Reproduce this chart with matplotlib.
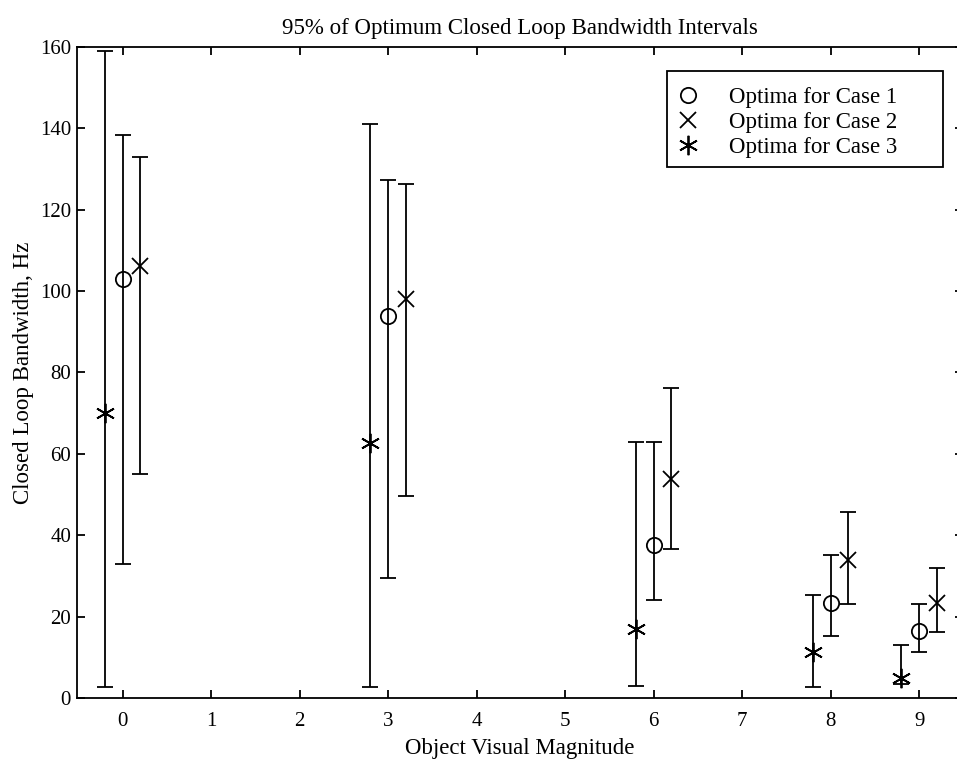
import numpy as np
from matplotlib import pyplot as plt
from matplotlib.patches import Rectangle

# object visual magnitudes
magnitudes = [0, 3, 6, 8, 9]

# Case 1 (circles, centred on magnitude)
case1_opt = [103, 94, 37.5, 23.4, 16.4]
case1_low = [33, 29.6, 24.2, 15.3, 11.4]
case1_high = [138.4, 127.3, 63, 35.2, 23.1]

# Case 2 (crosses, offset to the right)
case2_opt = [106.2, 98.1, 53.7, 34, 23.4]
case2_low = [55, 49.6, 36.7, 23.1, 16.3]
case2_high = [133, 126.3, 76.1, 45.7, 32]

# Case 3 (asterisks, offset to the left)
case3_opt = [70, 62.7, 17, 11.2, 4.9]
case3_low = [2.8, 2.6, 3, 2.8, 3.5]
case3_high = [159, 141, 62.9, 25.2, 13.1]

OFFSET = 0.2
FONT = "Liberation Serif"


def draw_case(ax, xs, opt, low, high, marker, label, ms):
    opt = np.array(opt)
    yerr = np.vstack([opt - np.array(low), np.array(high) - opt])
    ax.errorbar(xs, opt, yerr=yerr, fmt="none", ecolor="black",
                elinewidth=1.3, capsize=6, capthick=1.3)
    ax.plot(xs, opt, linestyle="none", marker=marker, markersize=ms,
            markerfacecolor="none", markeredgecolor="black",
            markeredgewidth=1.3, label=label)


def main():
    plt.rcParams["font.family"] = [FONT, "DejaVu Serif"]
    fig = plt.figure(figsize=(9.57, 7.6), dpi=100)
    ax = fig.add_axes([0.0801, 0.0816, 0.9265, 0.8566])

    x = np.array(magnitudes, dtype=float)
    draw_case(ax, x, case1_opt, case1_low, case1_high, "o", "Optima for Case 1", 11)
    draw_case(ax, x + OFFSET, case2_opt, case2_low, case2_high, "x", "Optima for Case 2", 12)
    draw_case(ax, x - OFFSET, case3_opt, case3_low, case3_high, (6, 2, 0), "Optima for Case 3", 14)

    ax.set_xlim(-0.52, 9.5)
    ax.set_ylim(0, 160)
    ax.set_xticks(np.arange(0, 10))
    ax.set_yticks(np.arange(0, 161, 20))
    ax.tick_params(direction="in", top=True, right=True, length=6, width=1.3,
                   labelsize=15)
    ax.tick_params(axis="x", pad=10)
    ax.tick_params(axis="y", pad=4)
    for s in ax.spines.values():
        s.set_linewidth(1.3)

    ax.set_title("95% of Optimum Closed Loop Bandwidth Intervals", fontsize=16.5, pad=9)
    ax.set_xlabel("Object Visual Magnitude", fontsize=16.5, labelpad=5)
    ax.set_ylabel("Closed Loop Bandwidth, Hz", fontsize=16.5, labelpad=4)

    # matlab style legend box, wider than its text
    box_x0, box_x1 = 0.6657, 0.9773
    box_y0, box_y1 = 0.8161, 0.9636
    ax.add_patch(Rectangle((box_x0, box_y0), box_x1 - box_x0, box_y1 - box_y0,
                           transform=ax.transAxes, facecolor="white",
                           edgecolor="black", linewidth=1.3, zorder=4))
    leg = ax.legend(loc="upper left", bbox_to_anchor=(box_x0, box_y1 - 0.0077),
                    borderaxespad=0, fontsize=16.5, frameon=False,
                    handlelength=0.8, handletextpad=1.39, labelspacing=0.17,
                    borderpad=0.5)
    leg.set_zorder(5)

    fig.savefig("out.png", dpi=100)


if __name__ == "__main__":
    main()
